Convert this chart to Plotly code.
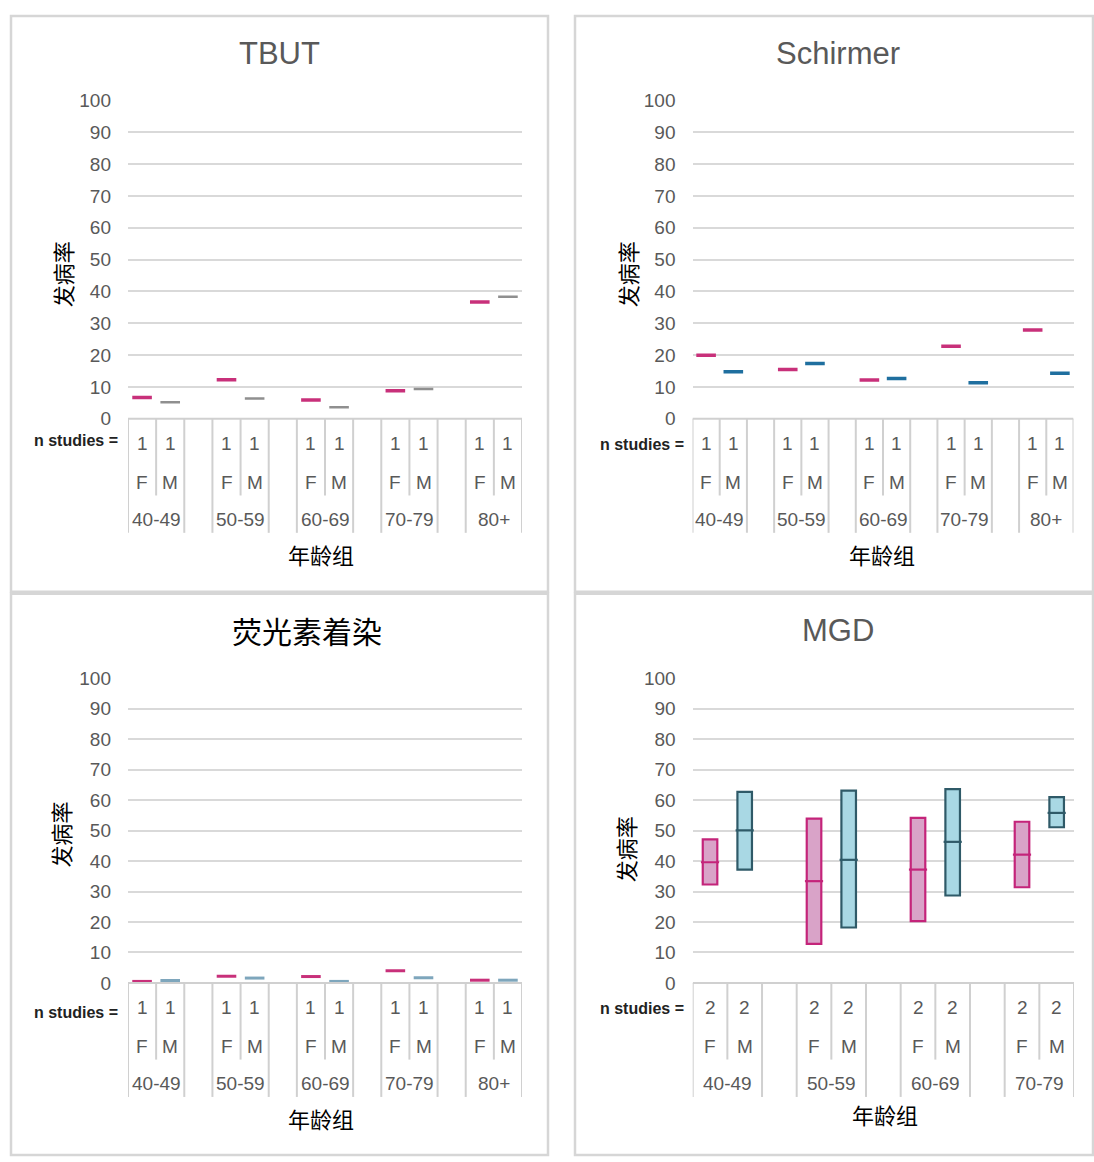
import plotly.graph_objects as go

W, H = 1094, 1162

# ---------------- data ----------------
groups5 = ["40-49", "50-59", "60-69", "70-79", "80+"]
groups4 = ["40-49", "50-59", "60-69", "70-79"]
sexes = ["F", "M"]

tbut_F = [6.7, 12.3, 5.9, 8.8, 36.7]
tbut_M = [5.2, 6.4, 3.6, 9.4, 38.3]
tbut_nF = [1, 1, 1, 1, 1]
tbut_nM = [1, 1, 1, 1, 1]

schirmer_F = [20.0, 15.5, 12.2, 22.8, 27.9]
schirmer_M = [14.8, 17.4, 12.7, 11.3, 14.3]
schirmer_nF = [1, 1, 1, 1, 1]
schirmer_nM = [1, 1, 1, 1, 1]

fluor_F = [0.5, 2.2, 2.1, 4.0, 0.9]
fluor_M = [0.8, 1.6, 0.5, 1.7, 0.9]
fluor_nF = [1, 1, 1, 1, 1]
fluor_nM = [1, 1, 1, 1, 1]

mgd_F_low = [32.3, 12.8, 20.3, 31.4]
mgd_F_med = [39.6, 33.4, 37.2, 42.1]
mgd_F_high = [47.1, 53.9, 54.2, 52.9]
mgd_M_low = [37.2, 18.2, 28.7, 51.1]
mgd_M_med = [50.1, 40.4, 46.3, 55.8]
mgd_M_high = [62.7, 63.1, 63.6, 61.0]
mgd_nF = [2, 2, 2, 2]
mgd_nM = [2, 2, 2, 2]

titles = ["TBUT", "Schirmer", "荧光素着染", "MGD"]
y_title = "发病率"
x_title = "年龄组"
n_label = "n studies ="
y_ticks = [0, 10, 20, 30, 40, 50, 60, 70, 80, 90, 100]

# ---------------- style ----------------
F_COL = "#c8307a"
GRAY_TXT = "#595959"
GRID = "#d9d9d9"
TABLE = "#d0d0d0"
BORDER = "#d6d6d6"
FONT = "Liberation Sans, Arial, sans-serif"
CJK = "Noto Sans CJK SC, sans-serif"


def px(x):
    return x / W


def py(y):
    return 1 - y / H


panels = [
    dict(title=titles[0], tpos=(279, 45), tfont=dict(size=31, color=GRAY_TXT, family=FONT),
         xd=(128, 522), yd=(92, 417), groups=groups5, nF=tbut_nF, nM=tbut_nM,
         ylab=(62, 270), xlab=(321, 555), nlab=(120, 439), box=(11, 7, 548, 593)),
    dict(title=titles[1], tpos=(838, 45), tfont=dict(size=31, color=GRAY_TXT, family=FONT),
         xd=(692.5, 1073.5), yd=(92, 417), groups=groups5, nF=schirmer_nF, nM=schirmer_nM,
         ylab=(627, 270), xlab=(882, 555), nlab=(686, 443), box=(575, 7, 1093, 593)),
    dict(title=titles[2], tpos=(307, 632), tfont=dict(size=30, color="black", family=CJK),
         xd=(128, 522), yd=(680, 991), groups=groups5, nF=fluor_nF, nM=fluor_nM,
         ylab=(60, 840), xlab=(321, 1128), nlab=(120, 1021), box=(11, 595, 548, 1166)),
    dict(title=titles[3], tpos=(838, 632), tfont=dict(size=31, color=GRAY_TXT, family=FONT),
         xd=(692.7, 1074), yd=(680, 991), groups=groups4, nF=mgd_nF, nM=mgd_nM,
         ylab=(625, 855), xlab=(885, 1124), nlab=(686, 1017), box=(575, 595, 1093, 1166)),
]

fig = go.Figure()
shapes = []
annotations = []
layout_axes = {}


def ann(text, x, y, xref="paper", yref="paper", font=None, xanchor="center", **kw):
    d = dict(text=text, x=x, y=y, xref=xref, yref=yref, showarrow=False, font=font,
             xanchor=xanchor, yanchor="middle")
    d.update(kw)
    annotations.append(d)


for i, p in enumerate(panels):
    k = i + 1
    xa = "xaxis" if k == 1 else f"xaxis{k}"
    ya = "yaxis" if k == 1 else f"yaxis{k}"
    xr = "x" if k == 1 else f"x{k}"
    yr = "y" if k == 1 else f"y{k}"
    ng = len(p["groups"])
    ncols = ng * 3 - 1
    layout_axes[xa] = dict(domain=[px(p["xd"][0]), px(p["xd"][1])], range=[-0.5, ncols - 0.5],
                           showgrid=False, showticklabels=False, zeroline=False, showline=False,
                           anchor=yr, fixedrange=True)
    layout_axes[ya] = dict(domain=[py(p["yd"][1]), py(p["yd"][0])], range=[0, 100.3],
                           tickvals=y_ticks, showgrid=True, gridcolor=GRID, gridwidth=1.5,
                           zeroline=False, showline=False, ticks="", ticklabelstandoff=16,
                           tickfont=dict(size=19, color=GRAY_TXT, family=FONT),
                           anchor=xr, fixedrange=True)

    # panel border
    bx0, by0, bx1, by1 = p["box"]
    shapes.append(dict(type="rect", xref="paper", yref="paper", x0=px(bx0), x1=px(bx1),
                       y0=py(by1), y1=py(by0), line=dict(color=BORDER, width=2.5), layer="below"))

    # title, axis titles
    ann(p["title"], px(p["tpos"][0]), py(p["tpos"][1]), font=p["tfont"])
    ann(y_title, px(p["ylab"][0]), py(p["ylab"][1]), textangle=-90,
        font=dict(size=22, color="black", family=CJK))
    ann(x_title, px(p["xlab"][0]), py(p["xlab"][1]),
        font=dict(size=22, color="black", family=CJK))
    ann("<b>" + n_label + "</b>", px(p["nlab"][0]), py(p["nlab"][1]), xanchor="right",
        font=dict(size=16, color="#222222", family=FONT))

    # category table
    base = p["yd"][1]
    shapes.append(dict(type="line", xref=xr, yref="paper", x0=-0.5, x1=ncols - 0.5,
                       y0=py(base), y1=py(base), line=dict(color=TABLE, width=2)))
    for b in range(ncols + 1):
        short = (b % 3 == 1)
        end = base + (78 if short else 116)
        shapes.append(dict(type="line", xref=xr, yref="paper", x0=b - 0.5, x1=b - 0.5,
                           y0=py(base), y1=py(end), line=dict(color=TABLE, width=2)))
    tf = dict(size=19, color=GRAY_TXT, family=FONT)
    for g, gname in enumerate(p["groups"]):
        for s, sname in enumerate(sexes):
            xc = g * 3 + s
            nval = p["nF"][g] if s == 0 else p["nM"][g]
            ann(str(nval), xc, py(base + 25), xref=xr, font=tf)
            ann(sname, xc, py(base + 65), xref=xr, font=tf)
        ann(gname, g * 3 + 0.5, py(base + 102), xref=xr, font=tf)


def dash_trace(vals, color, k, thick, col, size=14):
    xs = [g * 3 + col for g in range(len(vals))]
    return go.Scatter(x=xs, y=vals, mode="markers", xaxis="x" if k == 1 else f"x{k}",
                      yaxis="y" if k == 1 else f"y{k}", showlegend=False, hoverinfo="skip",
                      marker=dict(symbol="line-ew", size=size, color=color,
                                  line=dict(color=color, width=thick)))


fig.add_trace(dash_trace(tbut_F, F_COL, 1, 3.5, 0))
fig.add_trace(dash_trace(tbut_M, "#8f8f8f", 1, 2.5, 1))
fig.add_trace(dash_trace(schirmer_F, F_COL, 2, 3.5, 0))
fig.add_trace(dash_trace(schirmer_M, "#1f6f9f", 2, 3.5, 1))
fig.add_trace(dash_trace(fluor_F, F_COL, 3, 3, 0))
fig.add_trace(dash_trace(fluor_M, "#7ea6bc", 3, 3, 1))

# MGD floating boxes
MGD_F_FILL, MGD_F_LINE = "#d9a3c8", "#c4247a"
MGD_M_FILL, MGD_M_LINE = "#a9d8e4", "#2f5a68"
for s, (lo, md, hi, fill, line) in enumerate([
        (mgd_F_low, mgd_F_med, mgd_F_high, MGD_F_FILL, MGD_F_LINE),
        (mgd_M_low, mgd_M_med, mgd_M_high, MGD_M_FILL, MGD_M_LINE)]):
    xs = [g * 3 + s for g in range(len(lo))]
    fig.add_trace(go.Bar(x=xs, y=[h - l for h, l in zip(hi, lo)], base=lo, width=0.42,
                         xaxis="x4", yaxis="y4", showlegend=False, hoverinfo="skip",
                         marker=dict(color=fill, line=dict(color=line, width=2.2))))
    fig.add_trace(go.Scatter(x=xs, y=md, mode="markers", xaxis="x4", yaxis="y4",
                             showlegend=False, hoverinfo="skip",
                             marker=dict(symbol="line-ew", size=13, color=line,
                                         line=dict(color=line, width=2.2))))

fig.update_layout(width=W, height=H, margin=dict(l=0, r=0, t=0, b=0),
                  paper_bgcolor="white", plot_bgcolor="white",
                  shapes=shapes, annotations=annotations, **layout_axes)

post = ("document.body.style.margin='0';document.body.style.overflow='hidden';"
        "var gd=document.querySelector('.plotly-graph-div');"
        "gd.style.position='absolute';gd.style.left='0px';gd.style.top='0px';")
fig.write_html("out.html", post_script=post, config={"displayModeBar": False})
